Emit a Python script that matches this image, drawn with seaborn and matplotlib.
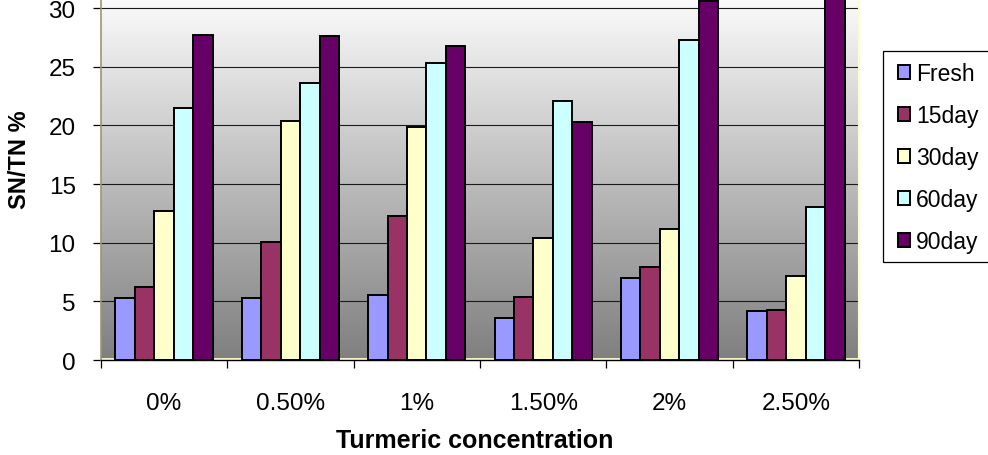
import numpy as np
import pandas as pd
import matplotlib
matplotlib.use("Agg")
import matplotlib.pyplot as plt
from matplotlib.colors import LinearSegmentedColormap
from matplotlib.patches import Patch, Rectangle
import seaborn as sns

CONCENTRATIONS = ["0%", "0.50%", "1%", "1.50%", "2%", "2.50%"]
STORAGE = ["Fresh", "15day", "30day", "60day", "90day"]
FRESH = [5.3, 5.3, 5.5, 3.6, 7.0, 4.2]
DAY15 = [6.2, 10.1, 12.3, 5.4, 7.9, 4.3]
DAY30 = [12.7, 20.4, 19.9, 10.4, 11.2, 7.2]
DAY60 = [21.5, 23.6, 25.3, 22.1, 27.3, 13.0]
DAY90 = [27.7, 27.6, 26.8, 20.3, 30.6, 32.0]
Y_TICKS = [0, 5, 10, 15, 20, 25, 30]

COLORS = ["#9999FF", "#993366", "#FFFFCC", "#CCFFFF", "#660066"]


def load_data() -> pd.DataFrame:
    series = [FRESH, DAY15, DAY30, DAY60, DAY90]
    rows = []
    for name, vals in zip(STORAGE, series):
        for conc, v in zip(CONCENTRATIONS, vals):
            rows.append({"conc": conc, "storage": name, "value": v})
    return pd.DataFrame(rows)


def create_barplot(df: pd.DataFrame, filename: str) -> None:
    sns.set_theme(style="white", rc={
        "text.color": "black",
        "axes.labelcolor": "black",
        "xtick.color": "black",
        "ytick.color": "black",
    })
    plt.rcParams["font.family"] = ["Liberation Sans", "DejaVu Sans"]

    fig = plt.figure(figsize=(9.88, 4.56), dpi=100)
    ax = fig.add_axes([0.1019, 0.2083, 0.7678, 0.7917])

    y_top = 30.77
    # gradient plot area, grey at the bottom to near-white at the top
    cmap = LinearSegmentedColormap.from_list("bg", ["#7f7f7f", "#fbfbfb"])
    grad = np.linspace(0, 1, 256).reshape(-1, 1)
    ax.imshow(grad, cmap=cmap, origin="lower", aspect="auto",
              extent=[-0.5, 5.5, 0, y_top], zorder=0)

    for y in Y_TICKS[1:]:
        ax.axhline(y, color="#1a1a1a", lw=0.8, zorder=1)
    ax.axhline(0.12, color="#FFFFCC", lw=2.0, zorder=1)

    sns.barplot(
        data=df, x="conc", y="value", hue="storage",
        order=CONCENTRATIONS, hue_order=STORAGE,
        palette=dict(zip(STORAGE, COLORS)),
        width=0.77, edgecolor="black", linewidth=1.4,
        saturation=1, errorbar=None, legend=False, ax=ax, zorder=2,
    )

    ax.set_xlim(-0.5, 5.5)
    ax.set_ylim(0, y_top)
    ax.set_yticks(Y_TICKS)
    ax.tick_params(axis="y", left=True, length=6, width=0.9, color="black",
                   labelcolor="black", labelsize=17.5, pad=12)
    ax.set_xticks(range(len(CONCENTRATIONS)))
    ax.set_xticklabels(CONCENTRATIONS)
    ax.tick_params(axis="x", which="major", bottom=False, labelsize=17.5,
                   labelcolor="black", pad=17)
    ax.set_xticks(np.arange(-0.5, 6.0, 1.0), minor=True)
    ax.tick_params(axis="x", which="minor", bottom=True, length=6, width=0.9,
                   color="black")
    ax.set_xlabel("")
    ax.set_ylabel("")

    ax.spines["top"].set_visible(False)
    ax.spines["left"].set_color("#9c9670")
    ax.spines["left"].set_linewidth(1.2)
    ax.spines["right"].set_color("#FFFFCC")
    ax.spines["right"].set_linewidth(1.5)
    ax.spines["bottom"].set_color("black")
    ax.spines["bottom"].set_linewidth(1.0)

    fig.text(475 / 988, 1 - 441 / 456, "Turmeric concentration", ha="center",
             va="center", fontsize=18, fontweight="bold", color="black")
    fig.text(20 / 988, 1 - 160 / 456, "SN/TN %", ha="center", va="center",
             rotation=90, fontsize=17, fontweight="bold", color="black")

    # legend box runs off the right edge of the picture
    fig.patches.append(Rectangle(
        (883 / 988, 1 - 263 / 456), 0.2, (263 - 52) / 456,
        transform=fig.transFigure, facecolor="white", edgecolor="black",
        linewidth=0.9, zorder=3,
    ))
    handles = [Patch(facecolor=c, edgecolor="black", linewidth=1.4) for c in COLORS]
    leg = fig.legend(
        handles, STORAGE, loc="upper left",
        bbox_to_anchor=(891 / 988, 1 - 56 / 456), bbox_transform=fig.transFigure,
        fontsize=16.5, frameon=False, borderaxespad=0,
        handlelength=0.55, handleheight=0.55, handletextpad=0.25,
        labelspacing=0.83, borderpad=0.3,
    )
    leg.set_zorder(4)

    fig.savefig(filename, dpi=100, facecolor="white")


def main() -> None:
    df = load_data()
    create_barplot(df, "out.png")


if __name__ == "__main__":
    main()
